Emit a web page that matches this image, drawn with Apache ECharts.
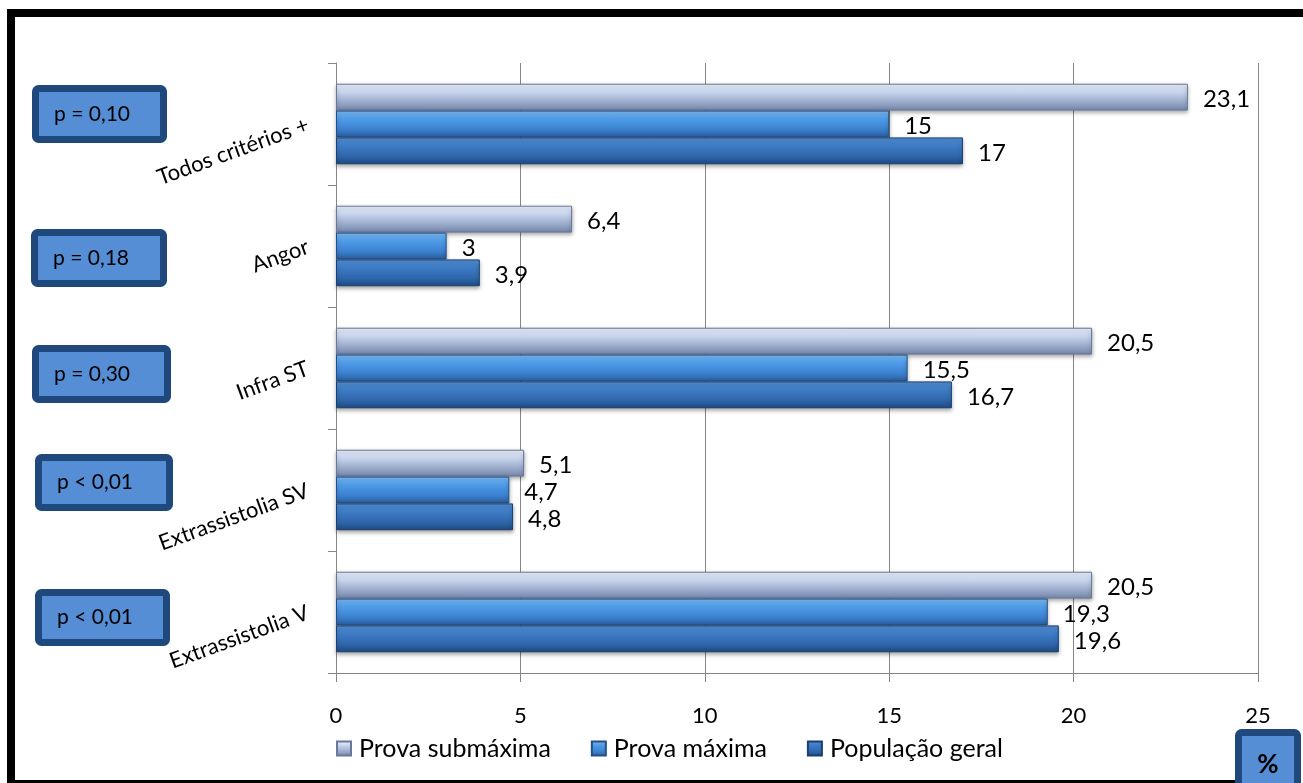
<!DOCTYPE html>
<html>
<head>
<meta charset="utf-8">
<script src="https://cdn.jsdelivr.net/npm/echarts@6/dist/echarts.min.js"></script>
<style>
html,body{margin:0;padding:0;background:#fff;}
#chart{width:1303px;height:783px;}
</style>
</head>
<body>
<div id="chart"></div>
<script>
const categories = ['Extrassistolia V', 'Extrassistolia SV', 'Infra ST', 'Angor', 'Todos critérios +'];
const populacaoGeral = [19.6, 4.8, 16.7, 3.9, 17];
const provaMaxima = [19.3, 4.7, 15.5, 3, 15];
const provaSubmaxima = [20.5, 5.1, 20.5, 6.4, 23.1];
const pValues = ['p < 0,01', 'p < 0,01', 'p = 0,30', 'p = 0,18', 'p = 0,10'];
const xTicks = [0, 5, 10, 15, 20, 25];

const FONT = 'Lato';

function grad(stops) {
  return {
    type: 'linear', x: 0, y: 0, x2: 0, y2: 1,
    colorStops: stops.map(s => ({ offset: s[0], color: s[1] }))
  };
}
const colSub = grad([[0, '#eef4fc'], [0.3, '#c9d6ee'], [0.65, '#9eaecd'], [1, '#7585aa']]);
const colMax = grad([[0, '#7dbdf6'], [0.3, '#4f9ce8'], [0.7, '#3b81cf'], [1, '#2a5d9d']]);
const colGer = grad([[0, '#5592d6'], [0.3, '#3e7cc6'], [0.7, '#2f66ab'], [1, '#1e4a80']]);

function mkSeries(name, data, color, border) {
  return {
    name: name,
    type: 'bar',
    data: data,
    barGap: '0%',
    barCategoryGap: '34%',
    itemStyle: {
      color: color,
      borderColor: border,
      borderWidth: 1,
      shadowBlur: 4,
      shadowColor: 'rgba(0,0,0,0.35)',
      shadowOffsetY: 2
    },
    label: {
      show: true,
      position: 'right',
      distance: 15,
      offset: [0, 2],
      fontFamily: FONT,
      fontSize: 24,
      color: '#000',
      formatter: p => String(p.value).replace('.', ',')
    }
  };
}

// p-value boxes (outer box extents in px), top to bottom
const boxes = [
  [32, 85, 135, 58], [31, 229, 136, 58], [32, 345, 139, 58], [35, 454, 138, 57], [35, 589, 135, 57]
];
const pTop = pValues.slice().reverse();
const graphics = [];
boxes.forEach((b, i) => {
  graphics.push({
    type: 'rect',
    shape: { x: b[0] + 3.5, y: b[1] + 3.5, width: b[2] - 7, height: b[3] - 7, r: 3 },
    style: { fill: '#558ed5', stroke: '#1f497d', lineWidth: 7 }
  });
  graphics.push({
    type: 'text',
    x: b[0] + 22, y: b[1] + b[3] / 2,
    style: { text: pTop[i], fontFamily: FONT, fontSize: 21, fill: '#000', verticalAlign: 'middle' }
  });
});
// % box
graphics.push({
  type: 'rect',
  shape: { x: 1238.5, y: 732.5, width: 59, height: 60, r: 3 },
  style: { fill: '#558ed5', stroke: '#1f497d', lineWidth: 7 }
});
graphics.push({
  type: 'text',
  x: 1268, y: 765,
  style: { text: '%', fontFamily: FONT, fontSize: 26, fontWeight: 'bold', fill: '#000', align: 'center', verticalAlign: 'middle' }
});
// frame
graphics.push({ type: 'rect', shape: { x: 7, y: 9, width: 8, height: 774 }, style: { fill: '#000' } });
graphics.push({ type: 'rect', shape: { x: 7, y: 9, width: 1296, height: 8 }, style: { fill: '#000' } });
graphics.push({ type: 'rect', shape: { x: 7, y: 780, width: 1228, height: 3 }, style: { fill: '#000' }, z: 0 });

const chart = echarts.init(document.getElementById('chart'), null, { renderer: 'canvas' });
chart.setOption({
  animation: false,
  backgroundColor: '#fff',
  grid: { left: 336, right: 45, top: 63, bottom: 110, containLabel: false },
  legend: {
    data: ['Prova submáxima', 'Prova máxima', 'População geral'],
    left: 331, top: 731,
    icon: 'rect', itemWidth: 14, itemHeight: 14, itemGap: 40,
    textStyle: { fontFamily: FONT, fontSize: 25, color: '#000', padding: [0, 0, 0, 3] }
  },
  xAxis: {
    type: 'value', min: 0, max: 25, interval: 5,
    axisLine: { show: true, lineStyle: { color: '#868686', width: 1 } },
    axisTick: { show: true, length: 9, lineStyle: { color: '#868686' } },
    splitLine: { show: true, lineStyle: { color: '#868686', width: 1 } },
    axisLabel: {
      fontFamily: FONT, fontSize: 22, color: '#000', margin: 32,
      formatter: v => (xTicks.indexOf(v) >= 0 ? String(v) : '')
    }
  },
  yAxis: {
    type: 'category', data: categories,
    axisLine: { show: true, lineStyle: { color: '#868686', width: 1 } },
    axisTick: { show: true, length: 8, lineStyle: { color: '#868686' } },
    axisLabel: { fontFamily: FONT, fontSize: 22, color: '#000', rotate: 20, margin: 28 }
  },
  series: [
    mkSeries('Prova submáxima', provaSubmaxima, colSub, '#6a7899'),
    mkSeries('Prova máxima', provaMaxima, colMax, '#244f86'),
    mkSeries('População geral', populacaoGeral, colGer, '#1b3f6e')
  ],
  graphic: graphics
});
</script>
</body>
</html>
